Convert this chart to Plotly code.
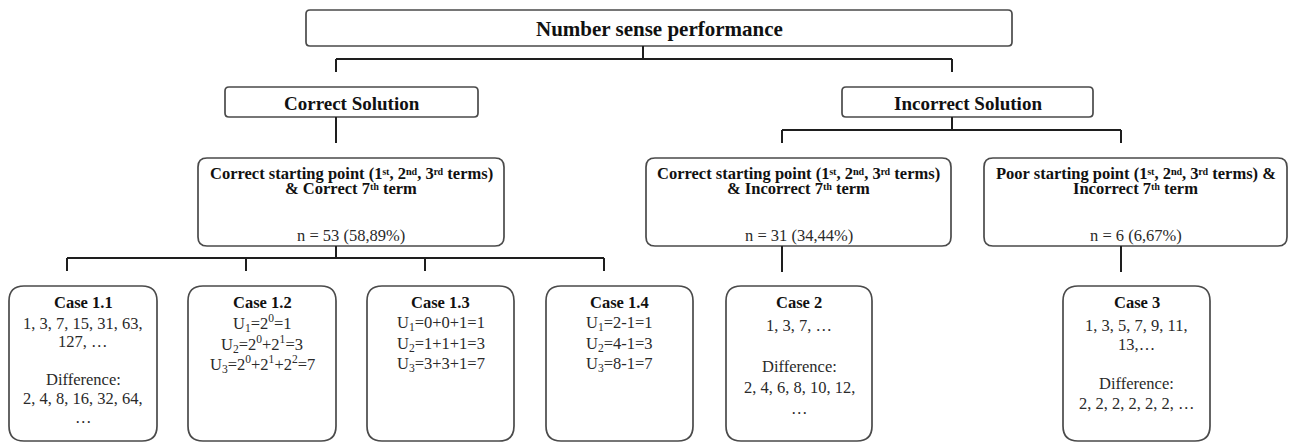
import plotly.graph_objects as go

# ---------------- data (labels / counts) ----------------
ROOT_LABEL = "Number sense performance"
SOLUTION_LABELS = ["Correct Solution", "Incorrect Solution"]
GROUP_HEADERS = [
    ["Correct starting point (1ˢᵗ, 2ⁿᵈ, 3ʳᵈ terms)", "& Correct 7ᵗʰ term"],
    ["Correct starting point (1ˢᵗ, 2ⁿᵈ, 3ʳᵈ terms)", "& Incorrect 7ᵗʰ term"],
    ["Poor starting point (1ˢᵗ, 2ⁿᵈ, 3ʳᵈ terms) &", "Incorrect 7ᵗʰ term"],
]
GROUP_N = [53, 31, 6]
GROUP_PCT = ["58,89", "34,44", "6,67"]
CASE_TITLES = ["Case 1.1", "Case 1.2", "Case 1.3", "Case 1.4", "Case 2", "Case 3"]
CASE_LINES = [
    ["1, 3, 7, 15, 31, 63,", "127, …", "", "Difference:", "2, 4, 8, 16, 32, 64,", "…"],
    ["U<sub>1</sub>=2<sup>0</sup>=1",
     "U<sub>2</sub>=2<sup>0</sup>+2<sup>1</sup>=3",
     "U<sub>3</sub>=2<sup>0</sup>+2<sup>1</sup>+2<sup>2</sup>=7"],
    ["U<sub>1</sub>=0+0+1=1", "U<sub>2</sub>=1+1+1=3", "U<sub>3</sub>=3+3+1=7"],
    ["U<sub>1</sub>=2-1=1", "U<sub>2</sub>=4-1=3", "U<sub>3</sub>=8-1=7"],
    ["1, 3, 7, …", "", "Difference:", "2, 4, 6, 8, 10, 12,", "…"],
    ["1, 3, 5, 7, 9, 11,", "13,…", "", "Difference:", "2, 2, 2, 2, 2, 2, …"],
]

# ---------------- layout geometry (pixels, y downwards) ----------------
W, H = 1289, 442
ROOT_BOX = (306, 1012, 10, 46, 4)
SOLUTION_BOXES = [(225, 478, 87, 117, 4), (842, 1093, 87, 117, 4)]
GROUP_BOXES = [(198, 504, 158, 246, 9), (646, 951, 158, 246, 9), (984, 1287, 158, 246, 9)]
CASE_BOXES = [(9, 157, 286, 441, 15), (188, 336, 286, 441, 15), (367, 514, 286, 441, 15),
              (546, 693, 286, 441, 15), (726, 872, 286, 441, 15), (1063, 1210, 286, 441, 15)]
CASE_TEXT = [(323, 18.8), (323, 20.5), (323, 20.5), (323, 20.5), (325, 20.8), (325, 19.5)]
CASE_TITLE_Y = 302
GROUP_LINE_Y = [173, 188]
GROUP_N_Y = 235

CONNECTORS = [
    # (x0, y0, x1, y1)
    (643, 46, 643, 59), (336, 59, 952, 59), (336, 59, 336, 72), (952, 59, 952, 72),
    (336, 117, 336, 143),
    (952, 117, 952, 130), (782, 130, 1121, 130), (782, 130, 782, 143), (1121, 130, 1121, 143),
    (336, 246, 336, 258), (67, 258, 604, 258),
    (67, 258, 67, 271), (246, 258, 246, 271), (425, 258, 425, 271), (604, 258, 604, 271),
    (782, 246, 782, 272), (1121, 246, 1121, 272),
]

FONT = "Liberation Serif, Times New Roman, DejaVu Serif, serif"
BOLD_C = "#111111"
REG_C = "#2a2a2a"
BOX_C = "#4a4a4a"
LINE_C = "#1e1e1e"


def rounded_path(x0, x1, y0, y1, r):
    return (f"M {x0+r},{y0} L {x1-r},{y0} Q {x1},{y0} {x1},{y0+r} "
            f"L {x1},{y1-r} Q {x1},{y1} {x1-r},{y1} L {x0+r},{y1} "
            f"Q {x0},{y1} {x0},{y1-r} L {x0},{y0+r} Q {x0},{y0} {x0+r},{y0} Z")


fig = go.Figure()
fig.add_trace(go.Scatter(x=[0, W], y=[0, H], mode="markers",
                         marker=dict(opacity=0), hoverinfo="skip", showlegend=False))

shapes = []
annotations = []


def add_box(b, width=1.7):
    x0, x1, y0, y1, r = b
    shapes.append(dict(type="path", path=rounded_path(x0, x1, y0, y1, r),
                       xref="x", yref="y", line=dict(color=BOX_C, width=width),
                       fillcolor="white", layer="below"))


def add_text(x, y, text, size, bold=False):
    annotations.append(dict(x=x, y=y, xref="x", yref="y", text=(f"<b>{text}</b>" if bold else text),
                            showarrow=False, xanchor="center", yanchor="middle",
                            font=dict(family=FONT, size=size, color=BOLD_C if bold else REG_C)))


for (x0, y0, x1, y1) in CONNECTORS:
    shapes.append(dict(type="line", x0=x0, y0=y0, x1=x1, y1=y1, xref="x", yref="y",
                       line=dict(color=LINE_C, width=2)))

# root
add_box(ROOT_BOX)
add_text((ROOT_BOX[0] + ROOT_BOX[1]) / 2, (ROOT_BOX[2] + ROOT_BOX[3]) / 2 + 1, ROOT_LABEL, 21, True)

# solutions
for b, lab in zip(SOLUTION_BOXES, SOLUTION_LABELS):
    add_box(b)
    add_text((b[0] + b[1]) / 2, (b[2] + b[3]) / 2 + 1, lab, 19, True)

# groups
for b, hdr, n, pct in zip(GROUP_BOXES, GROUP_HEADERS, GROUP_N, GROUP_PCT):
    add_box(b)
    cx = (b[0] + b[1]) / 2
    for ly, line in zip(GROUP_LINE_Y, hdr):
        add_text(cx, ly, line, 16.5, True)
    add_text(cx, GROUP_N_Y, f"n = {n} ({pct}%)", 16.5)

# cases
for b, title, lines, (y_start, step) in zip(CASE_BOXES, CASE_TITLES, CASE_LINES, CASE_TEXT):
    add_box(b)
    cx = (b[0] + b[1]) / 2
    add_text(cx, CASE_TITLE_Y, title, 16.5, True)
    for i, line in enumerate(lines):
        if line:
            add_text(cx, y_start + i * step, line, 16.5)

fig.update_layout(
    width=W, height=H, autosize=False,
    margin=dict(l=0, r=0, t=0, b=0),
    paper_bgcolor="white", plot_bgcolor="white",
    xaxis=dict(range=[0, W], visible=False, fixedrange=True),
    yaxis=dict(range=[H, 0], visible=False, fixedrange=True),
    shapes=shapes, annotations=annotations, showlegend=False,
)

fig.write_html("out.html", config={"displayModeBar": False},
               post_script="document.body.style.margin='0';document.body.style.overflow='hidden';")
